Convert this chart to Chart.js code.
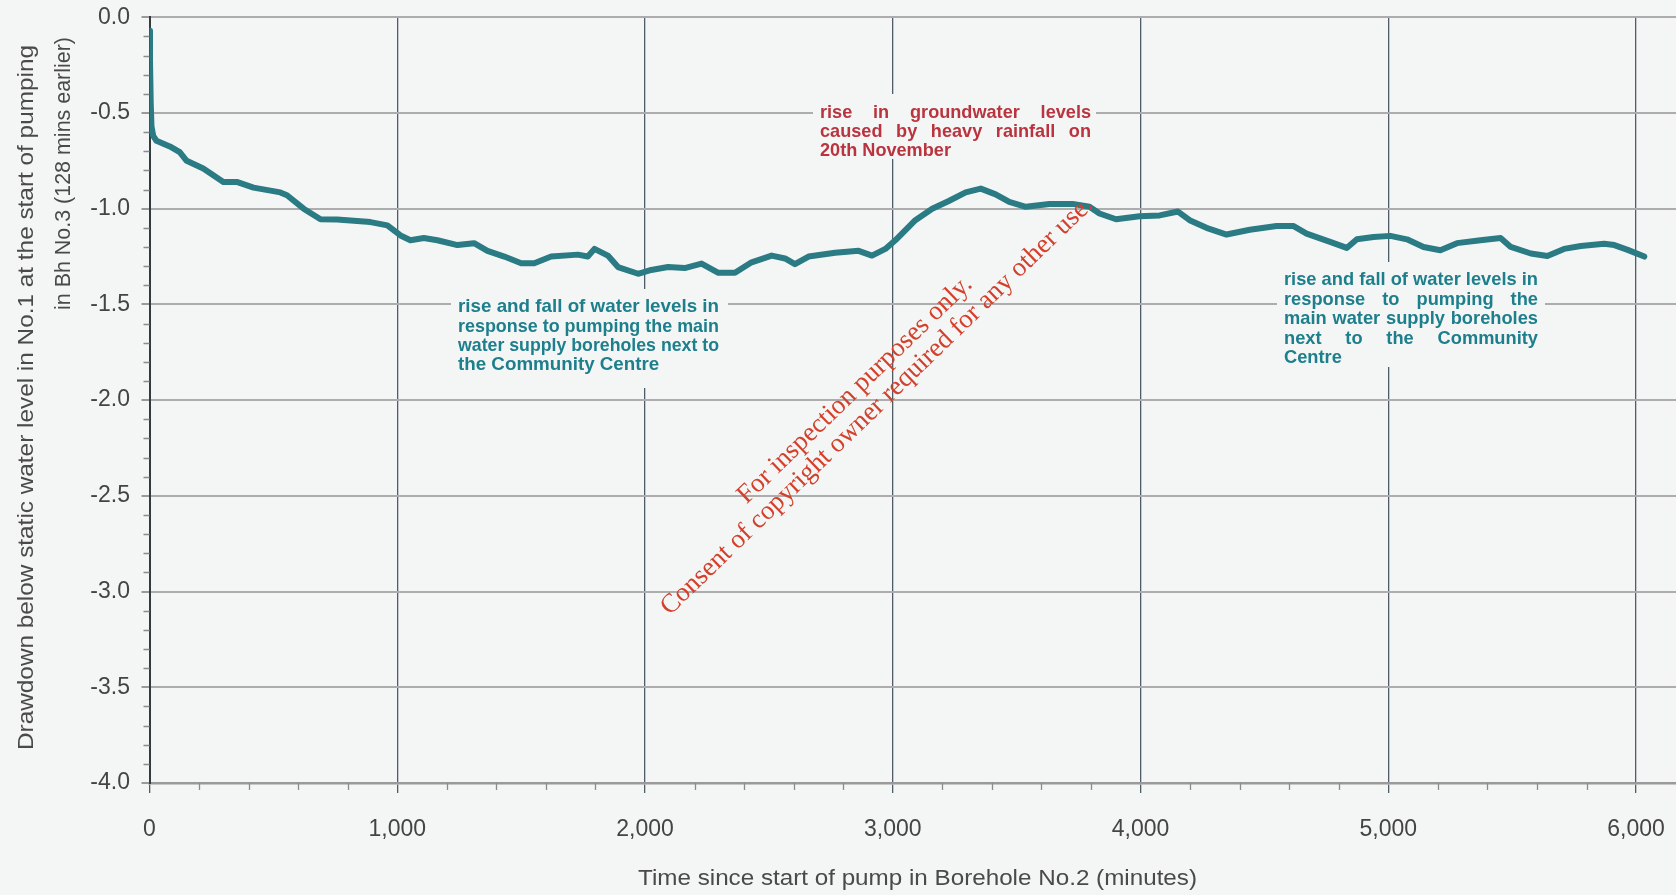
<!DOCTYPE html>
<html>
<head>
<meta charset="utf-8">
<title>Drawdown in Bh No.3</title>
<script src="https://cdn.jsdelivr.net/npm/chart.js@4/dist/chart.umd.min.js"></script>
<style>
  html, body { margin: 0; padding: 0; background: #f4f5f5; }
  canvas { display: block; }
</style>
</head>
<body>
<canvas id="chart" width="1676" height="895"></canvas>
<script>
// time since start of pump (minutes)
const timeMin = [0, 2, 5, 8, 15, 28, 82, 122, 150, 217, 298, 352, 420, 528, 555, 622, 690, 757, 892, 960,
  1013, 1053, 1107, 1162, 1243, 1310, 1364, 1432, 1500, 1553, 1621, 1729, 1769, 1796, 1850, 1891, 1972,
  2025, 2093, 2160, 2228, 2296, 2363, 2430, 2511, 2565, 2605, 2660, 2767, 2862, 2916, 2970,
  3010, 3091, 3159, 3226, 3294, 3355, 3415, 3470, 3537, 3632, 3726, 3794, 3834, 3901, 3996,
  4077, 4151, 4198, 4266, 4347, 4441, 4549, 4616, 4670, 4765, 4832, 4873, 4940,
  5008, 5075, 5142, 5210, 5277, 5372, 5453, 5494, 5575, 5642, 5709, 5777, 5871, 5912, 5966, 6033];

// drawdown (m) below static level
const drawdown = [-0.07, -0.22, -0.45, -0.57, -0.62, -0.645, -0.675, -0.705, -0.75, -0.79, -0.86, -0.86, -0.89, -0.915, -0.93, -1.0, -1.055, -1.056, -1.07, -1.087,
  -1.14, -1.165, -1.153, -1.165, -1.19, -1.18, -1.22, -1.25, -1.285, -1.285, -1.25, -1.24, -1.25, -1.21, -1.245, -1.305, -1.34,
  -1.32, -1.305, -1.31, -1.287, -1.335, -1.335, -1.28, -1.245, -1.26, -1.29, -1.25, -1.23, -1.22, -1.245, -1.21,
  -1.165, -1.06, -1.0, -0.96, -0.915, -0.895, -0.925, -0.965, -0.99, -0.975, -0.975, -0.99, -1.025, -1.055, -1.04,
  -1.035, -1.015, -1.06, -1.10, -1.135, -1.11, -1.09, -1.09, -1.13, -1.173, -1.205, -1.16, -1.148,
  -1.142, -1.16, -1.2, -1.217, -1.18, -1.165, -1.153, -1.2, -1.234, -1.247, -1.21, -1.195, -1.183, -1.19, -1.215, -1.25];

const xTickValues = [0, 1000, 2000, 3000, 4000, 5000, 6000];

const xTitle = 'Time since start of pump in Borehole No.2 (minutes)';
const yTitle = ['Drawdown below static water level in No.1 at the start of pumping', 'in Bh No.3 (128 mins earlier)'];

const rainNote = ['rise in groundwater levels', 'caused by heavy rainfall on', '20th November'];
const pumpNoteLeft = ['rise and fall of water levels in', 'response to pumping the main', 'water supply boreholes next to', 'the Community Centre'];
const pumpNoteRight = ['rise and fall of water levels in', 'response to pumping the', 'main water supply boreholes', 'next to the Community', 'Centre'];
const watermark = ['For inspection purposes only.', 'Consent of copyright owner required for any other use.'];

const bg = '#f4f5f5';

// draw text squeezed/stretched to a given width
function fitText(ctx, text, x, y, width) {
  const w = ctx.measureText(text).width;
  ctx.save();
  ctx.translate(x, y);
  ctx.scale(width / w, 1);
  ctx.fillText(text, 0, 0);
  ctx.restore();
}

// justified block, font size set so that refLine has refWidth
function drawNote(ctx, lines, opt) {
  const family = '"Liberation Sans", Arial, sans-serif';
  ctx.font = `${opt.weight} 18px ${family}`;
  const size = 18 * opt.refWidth / ctx.measureText(lines[opt.refLine]).width;
  ctx.fillStyle = bg;
  ctx.fillRect(opt.box[0], opt.box[1], opt.box[2] - opt.box[0], opt.box[3] - opt.box[1]);
  ctx.font = `${opt.weight} ${size}px ${family}`;
  ctx.fillStyle = opt.color;
  ctx.textBaseline = 'middle';
  ctx.textAlign = 'left';
  const space = ctx.measureText(' ').width;
  lines.forEach((line, i) => {
    const y = opt.top + i * opt.step;
    const words = line.split(' ');
    const ww = words.map(w => ctx.measureText(w).width);
    const sum = ww.reduce((a, b) => a + b, 0);
    const natural = sum + space * (words.length - 1);
    const last = i === lines.length - 1 || words.length < 2;
    if (last && natural <= opt.width) {
      ctx.fillText(line, opt.left, y);
      return;
    }
    const k = natural > opt.width ? opt.width / natural : 1;
    const gap = (opt.width / k - sum) / (words.length - 1);
    ctx.save();
    ctx.translate(opt.left, y);
    ctx.scale(k, 1);
    let x = 0;
    words.forEach((w, j) => {
      ctx.fillText(w, x, 0);
      x += ww[j] + gap;
    });
    ctx.restore();
  });
}

const decorPlugin = {
  id: 'decor',
  beforeDraw(chart) {
    const ctx = chart.ctx;
    ctx.save();
    ctx.fillStyle = bg;
    ctx.fillRect(0, 0, chart.width, chart.height);
    ctx.restore();
  },
  beforeDatasetsDraw(chart) {
    const ctx = chart.ctx;
    const xs = chart.scales.x, ys = chart.scales.y;
    ctx.save();
    // minor ticks
    ctx.strokeStyle = '#8c8c8c';
    ctx.lineWidth = 1.3;
    ctx.beginPath();
    for (let v = 200; v < xs.max; v += 200) {
      if (v % 1000 === 0) continue;
      const px = Math.round(xs.getPixelForValue(v)) + 0.5;
      ctx.moveTo(px, ys.bottom);
      ctx.lineTo(px, ys.bottom + 7);
    }
    for (let i = 1; i < 40; i++) {
      if (i % 5 === 0) continue;
      const py = Math.round(ys.getPixelForValue(-i / 10)) + 0.5;
      ctx.moveTo(xs.left - 6, py);
      ctx.lineTo(xs.left, py);
    }
    ctx.stroke();

    drawNote(ctx, rainNote, { left: 820, width: 271, top: 113, step: 19.2, color: '#b9343f', weight: 'bold',
      refLine: 2, refWidth: 131, box: [813, 94, 1096, 159] });
    drawNote(ctx, pumpNoteLeft, { left: 458, width: 261, top: 307, step: 19.4, color: '#1d7f8c', weight: 'bold',
      refLine: 0, refWidth: 261, box: [451, 289, 728, 388] });
    drawNote(ctx, pumpNoteRight, { left: 1284, width: 254, top: 280, step: 19.6, color: '#1d7f8c', weight: 'bold',
      refLine: 0, refWidth: 254, box: [1277, 262, 1545, 367] });
    ctx.restore();
  },
  afterDraw(chart) {
    const ctx = chart.ctx;
    ctx.save();
    // axis titles
    ctx.fillStyle = '#4a4a4a';
    ctx.font = '22px "Liberation Sans", Arial, sans-serif';
    ctx.textBaseline = 'middle';
    ctx.textAlign = 'left';
    fitText(ctx, xTitle, 638, 879, 559);
    ctx.save();
    ctx.translate(27, 750);
    ctx.rotate(-Math.PI / 2);
    fitText(ctx, yTitle[0], 0, 0, 705);
    ctx.restore();
    ctx.save();
    ctx.translate(64, 310);
    ctx.rotate(-Math.PI / 2);
    fitText(ctx, yTitle[1], 0, 0, 273);
    ctx.restore();

    // watermark
    ctx.fillStyle = '#d3402b';
    ctx.font = '24px "Liberation Serif", "Times New Roman", serif';
    const size = 24 * 590 / ctx.measureText(watermark[1]).width;
    ctx.font = `${size}px "Liberation Serif", "Times New Roman", serif`;
    ctx.textAlign = 'center';
    const ang = -44 * Math.PI / 180;
    [[855, 390], [877, 406]].forEach((c, i) => {
      ctx.save();
      ctx.translate(c[0], c[1]);
      ctx.rotate(ang);
      ctx.fillText(watermark[i], 0, 0);
      ctx.restore();
    });
    ctx.restore();
  }
};

new Chart(document.getElementById('chart'), {
  type: 'line',
  data: {
    datasets: [{
      data: timeMin.map((t, i) => ({ x: t, y: drawdown[i] })),
      borderColor: '#2a7b83',
      borderWidth: 6,
      borderCapStyle: 'round',
      borderJoinStyle: 'round',
      pointRadius: 0,
      tension: 0,
      fill: false
    }]
  },
  options: {
    responsive: false,
    animation: false,
    layout: { padding: { top: 17, right: 0, bottom: 0, left: 0 } },
    plugins: { legend: { display: false }, tooltip: { enabled: false } },
    scales: {
      x: {
        type: 'linear',
        min: 0,
        max: 6161,
        afterFit: s => { s.height = 112; },
        afterBuildTicks: s => { s.ticks = xTickValues.map(v => ({ value: v })); },
        ticks: {
          autoSkip: false,
          maxRotation: 0,
          minRotation: 0,
          padding: 0,
          color: '#444',
          // tall line height pushes the labels down without widening the right margin
          font: { family: '"Liberation Sans", Arial, sans-serif', size: 23, lineHeight: 3.2 },
          callback: v => String(v).replace(/\B(?=(\d{3})+(?!\d))/g, ',')
        },
        grid: { color: '#4f5d68', lineWidth: 1.3, tickLength: 10, tickColor: '#4f5d68' },
        border: { color: '#9a9a9a', width: 2.5 }
      },
      y: {
        min: -4,
        max: 0,
        afterFit: s => { s.width = 149.5; },
        ticks: {
          stepSize: 0.5,
          padding: 11.5,
          color: '#444',
          // small line height keeps the top margin at the layout padding
          font: { family: '"Liberation Sans", Arial, sans-serif', size: 23, lineHeight: 0.5 },
          callback: v => v.toFixed(1)
        },
        grid: { color: '#adadad', lineWidth: 2, tickLength: 8, tickColor: '#9a9a9a' },
        border: { color: '#333a40', width: 2 }
      }
    }
  },
  plugins: [decorPlugin]
});
</script>
</body>
</html>
